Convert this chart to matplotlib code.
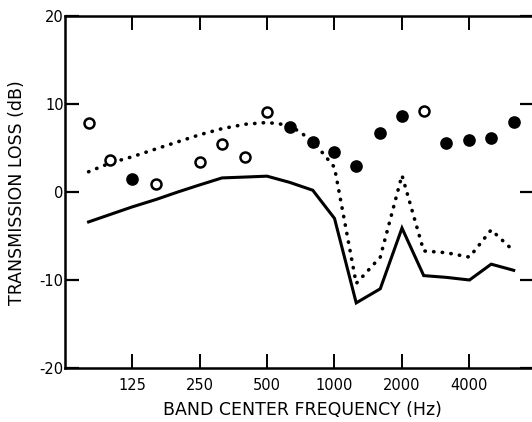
import matplotlib
matplotlib.use("Agg")
import matplotlib.pyplot as plt

# ---- data ----
line_freqs = [80, 100, 125, 160, 200, 250, 315, 400, 500, 630, 800, 1000,
              1250, 1600, 2000, 2500, 3150, 4000, 5000, 6300]
solid_tl = [-3.4, -2.55, -1.7, -0.85, 0.0, 0.8, 1.6, 1.7, 1.8, 1.1, 0.2, -3.0,
            -12.6, -11.0, -4.1, -9.5, -9.7, -10.0, -8.2, -8.9]
dotted_tl = [2.3, 3.3, 4.0, 4.9, 5.7, 6.5, 7.2, 7.7, 7.9, 7.6, 5.8, 2.8,
             -10.4, -7.4, 1.9, -6.7, -6.9, -7.4, -4.3, -6.7]

open_freqs = [80, 100, 160, 250, 315, 400, 500, 2500]
open_tl = [7.8, 3.6, 0.9, 3.4, 5.4, 4.0, 9.1, 9.2]
filled_freqs = [125, 630, 800, 1000, 1250, 1600, 2000, 3150, 4000, 5000, 6300]
filled_tl = [1.5, 7.4, 5.7, 4.5, 3.0, 6.7, 8.6, 5.6, 5.9, 6.1, 8.0]

xticks = [125, 250, 500, 1000, 2000, 4000]
xticklabels = ["125", "250", "500", "1000", "2000", "4000"]
yticks = [-20, -10, 0, 10, 20]
yticklabels = ["-20", "-10", "0", "10", "20"]

# ---- figure ----
W, H = 532, 422
fig = plt.figure(figsize=(W / 100, H / 100), dpi=100)
left_px, right_px, top_px, bot_px = 65, 534, 16, 368
ax = fig.add_axes([left_px / W, 1 - bot_px / H,
                   (right_px - left_px) / W, (bot_px - top_px) / H])

ax.plot(line_freqs, solid_tl, color="black", lw=2.2, solid_joinstyle="miter")
ax.plot(line_freqs, dotted_tl, color="black", lw=2.6,
        linestyle=(0, (0.1, 2.3)), dash_capstyle="round")
ax.plot(open_freqs, open_tl, linestyle="none", marker="o", ms=7.2,
        mfc="white", mec="black", mew=1.8)
ax.plot(filled_freqs, filled_tl, linestyle="none", marker="o", ms=7.6,
        mfc="black", mec="black", mew=1.5)

ax.set_xscale("log")
ax.set_xlim(62.8, 7760)
ax.set_ylim(-20, 20)
ax.minorticks_off()
ax.set_xticks(xticks)
ax.set_xticklabels(xticklabels)
ax.set_yticks(yticks)
ax.set_yticklabels(yticklabels)

for s in ax.spines.values():
    s.set_linewidth(1.8)

ax.tick_params(axis="x", which="both", direction="in", length=10, width=1.4,
               top=True, bottom=True, labelsize=10.5, pad=7)
ax.tick_params(axis="y", which="both", direction="in", length=10, width=1.6,
               left=True, right=True, labelsize=10.5, pad=1)

fig.text(17 / W, 1 - 193 / H, "TRANSMISSION LOSS (dB)", rotation=90,
         ha="center", va="center", fontsize=12.5)
fig.text(302 / W, 1 - 410 / H, "BAND CENTER FREQUENCY (Hz)",
         ha="center", va="center", fontsize=12.5)

fig.savefig("out.png", dpi=100)
